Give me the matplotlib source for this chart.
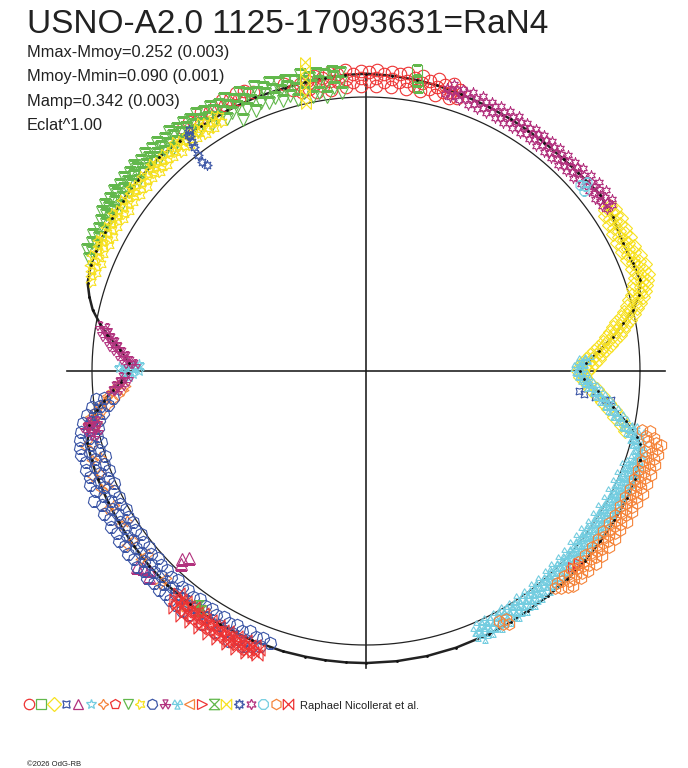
import numpy as np
import matplotlib
matplotlib.use("Agg")
import matplotlib.pyplot as plt
from matplotlib.path import Path

plt.rcParams['font.family'] = ['Liberation Sans', 'DejaVu Sans']

# ---- light-curve data : phase angle (degrees) then relative flux value(s) ----
# flux is drawn as radius (Eclat^1.00); the circle is the mean brightness
model = [(-18, 1.05), (-15, 1.035), (-13.7, 1.018), (-11, 0.965), (-8.3, 0.912), (-5, 0.85),
         (-2, 0.795), (0, 0.782), (2, 0.805), (5, 0.855), (7.8, 0.909), (10.5, 0.955),
         (12.9, 1.0), (15.5, 1.035), (18.4, 1.055), (22, 1.05), (26.5, 1.048), (32, 1.062),
         (37, 1.07), (43, 1.06), (47, 1.057), (52, 1.058), (56, 1.058), (60, 1.06), (65, 1.063),
         (71, 1.068), (76, 1.074), (80, 1.078), (85, 1.082), (90, 1.085), (94, 1.083), (98, 1.08),
         (102, 1.077), (106, 1.075), (112, 1.077), (118, 1.077), (124, 1.077), (129, 1.081),
         (134, 1.085), (140, 1.085), (145, 1.084), (149, 1.082), (152, 1.08), (156, 1.078),
         (159, 1.076), (162.4, 1.066), (165, 1.045), (167.4, 1.022), (170, 0.985), (172, 0.953),
         (175, 0.9), (178, 0.866), (180.5, 0.87), (182.5, 0.895), (184.3, 0.927), (186.5, 0.963),
         (188.3, 0.993), (191, 1.03), (194.5, 1.05), (198, 1.053), (202, 1.055), (207, 1.056),
         (211.5, 1.058), (217, 1.061), (222, 1.064), (227, 1.066), (233, 1.067), (240, 1.068),
         (247, 1.068), (253.5, 1.067), (258, 1.066), (262, 1.066), (266, 1.066), (270, 1.066),
         (276, 1.065), (282, 1.064), (288, 1.062), (295, 1.06), (300, 1.058), (304, 1.056),
         (309, 1.056), (314, 1.057), (319, 1.057), (324, 1.057), (329, 1.058), (334, 1.06),
         (338, 1.057), (342, 1.05)]

red_circles = [(71.5, 1.05, 1.08), (73, 1.04, 1.065, 1.095), (74.5, 1.055, 1.085), (76, 1.04, 1.07, 1.10),
               (77.5, 1.055, 1.085), (79, 1.04, 1.07, 1.095), (80.5, 1.055, 1.085), (82, 1.04, 1.07, 1.10),
               (83.5, 1.06, 1.09), (85, 1.04, 1.07, 1.095), (86.5, 1.055, 1.085), (88, 1.04, 1.07, 1.10),
               (89.5, 1.06, 1.09), (91, 1.04, 1.07, 1.095), (92.5, 1.055, 1.085), (94, 1.04, 1.07, 1.10),
               (95.5, 1.06, 1.09), (97, 1.035, 1.065, 1.095), (98.5, 1.05, 1.08), (100, 1.035, 1.065, 1.095),
               (101.5, 1.05, 1.08), (103, 1.045, 1.075), (104.5, 1.06), (106, 1.09), (112, 1.10),
               (113.5, 1.115), (115, 1.095, 1.12), (116.5, 1.11), (118, 1.10, 1.12), (119.5, 1.115),
               (121, 1.105), (122.5, 1.12), (124, 1.10), (125.5, 1.115), (127, 1.11)]
green_squares = [(80.4, 1.115), (80.0, 1.075), (79.6, 1.055)]
yellow_diamonds = [(34, 1.05, 1.075), (33, 1.04, 1.065, 1.085), (32, 1.05, 1.075), (31, 1.035, 1.06, 1.085),
                   (30, 1.045, 1.07), (29, 1.03, 1.055, 1.08), (28, 1.045, 1.07), (27, 1.03, 1.055, 1.08),
                   (26, 1.04, 1.065), (25, 1.03, 1.055, 1.08), (24, 1.045, 1.07), (23, 1.035, 1.06, 1.085),
                   (22, 1.05, 1.075), (21, 1.04, 1.065, 1.09), (20, 1.05, 1.08), (19, 1.04, 1.065, 1.09),
                   (18, 1.03, 1.06, 1.08), (17, 1.02, 1.05, 1.07), (16, 1.01, 1.04, 1.06),
                   (15, 0.995, 1.025, 1.045), (14, 0.98, 1.01, 1.03), (13, 0.965, 0.99, 1.015),
                   (12, 0.95, 0.975, 1.0), (11, 0.93, 0.955, 0.98), (10, 0.915, 0.94, 0.965),
                   (9, 0.9, 0.925, 0.95), (8, 0.885, 0.91, 0.935), (7, 0.87, 0.89, 0.915),
                   (6, 0.85, 0.875, 0.9), (5, 0.835, 0.86, 0.88), (4, 0.82, 0.84, 0.865),
                   (3, 0.805, 0.825, 0.85), (2, 0.79, 0.81, 0.835), (1, 0.78, 0.80, 0.82),
                   (0, 0.775, 0.79, 0.81), (-1.5, 0.78, 0.80), (-3, 0.80, 0.82), (-4.5, 0.82, 0.845),
                   (-6, 0.845, 0.87), (-7.5, 0.87, 0.895), (-9, 0.895, 0.92), (-10.5, 0.92, 0.945),
                   (-12, 0.95, 0.97), (-13, 0.97)]
blue_stars4 = [(-5.5, 0.78), (-6, 0.80), (-6.5, 0.84), (-7, 0.88), (-6.8, 0.90)]
magenta_triangles = [(220.5, 1.10), (221.5, 1.085), (222.5, 1.075), (223.5, 1.09), (225.5, 0.96),
                     (226.2, 0.975), (226.7, 0.94)]
cyan_stars = [(178.5, 0.83, 0.86), (179.2, 0.84, 0.875, 0.90), (180, 0.83, 0.86, 0.885),
              (180.8, 0.85, 0.875), (181.5, 0.865)]
orange_stars4 = [(183.5, 0.88, 0.91), (184.5, 0.89, 0.93), (185.5, 0.91, 0.95), (186.5, 0.93, 0.96),
                 (187.5, 0.95, 0.98), (188.5, 0.97, 1.0), (189.5, 0.99, 1.02), (191, 1.0, 1.03),
                 (195, 1.03, 1.06), (198, 1.02, 1.05), (201, 1.04, 1.07), (204, 1.03, 1.06),
                 (208, 1.04, 1.07), (212, 1.03, 1.06), (216, 1.05, 1.08), (220, 1.04, 1.07),
                 (226, 1.05, 1.08), (232, 1.06, 1.09), (236, 1.05)]
red_pentagons = [(190, 1.02), (191, 1.035), (191.5, 1.01)]
green_tri_down = [(95, 1.02, 1.06, 1.09), (96.5, 1.04, 1.08, 1.10), (98, 1.01, 1.06, 1.09),
                  (99.5, 1.03, 1.07, 1.10), (101, 1.02, 1.06, 1.09), (102.5, 1.04, 1.08, 1.105),
                  (104, 1.02, 1.06, 1.09), (105.5, 1.04, 1.075, 1.10), (107, 1.03, 1.07, 1.10),
                  (108.5, 1.05, 1.08, 1.11), (110, 1.04, 1.075, 1.10), (111.5, 1.05, 1.09, 1.115),
                  (113, 1.03, 1.07, 1.10), (114.5, 1.05, 1.085, 1.115), (116, 1.02, 1.07, 1.10),
                  (117.5, 1.06, 1.09, 1.12), (119, 1.05, 1.08, 1.11), (120.5, 1.07, 1.10, 1.12),
                  (122, 1.06, 1.09, 1.115), (123.5, 1.08, 1.10, 1.125), (125, 1.07, 1.095, 1.12),
                  (126.5, 1.08, 1.105, 1.125), (128, 1.07, 1.10, 1.12), (129.5, 1.085, 1.11, 1.13),
                  (131, 1.075, 1.10, 1.12), (132.5, 1.085, 1.11, 1.13), (134, 1.08, 1.10, 1.125),
                  (135.5, 1.09, 1.11, 1.13), (137, 1.08, 1.10, 1.125), (138.5, 1.09, 1.115, 1.13),
                  (140, 1.08, 1.105, 1.125), (141.5, 1.09, 1.11, 1.13), (143, 1.085, 1.105, 1.125),
                  (144.5, 1.09, 1.115, 1.13), (146, 1.08, 1.105, 1.125), (147.5, 1.09, 1.11, 1.13),
                  (149, 1.085, 1.105, 1.125), (150.5, 1.09, 1.11), (152, 1.085, 1.105), (153.5, 1.09, 1.115),
                  (155, 1.085, 1.105), (156.5, 1.09, 1.11), (158, 1.09)]
yellow_stars = [(120, 1.05, 1.075), (121, 1.06, 1.085), (122, 1.045, 1.07), (123, 1.055, 1.08),
                (124, 1.045, 1.07, 1.09), (125, 1.06, 1.08), (126, 1.05, 1.075), (127, 1.06, 1.085),
                (128, 1.045, 1.07), (129, 1.055, 1.08), (130, 1.045, 1.07, 1.09), (131, 1.06, 1.08),
                (132, 1.05, 1.075), (133, 1.06, 1.085), (134, 1.045, 1.07), (135, 1.055, 1.08),
                (136, 1.045, 1.07, 1.09), (137, 1.06, 1.08), (138, 1.05, 1.075), (139, 1.06, 1.085),
                (140, 1.045, 1.07), (141, 1.055, 1.08), (142, 1.045, 1.07, 1.09), (143, 1.06, 1.08),
                (144, 1.05, 1.075), (145, 1.06, 1.085), (146, 1.045, 1.07), (147, 1.055, 1.08),
                (148, 1.045, 1.07, 1.09), (149, 1.06, 1.08), (150, 1.05, 1.075), (151, 1.06, 1.085),
                (152, 1.045, 1.07), (153, 1.055, 1.08), (154, 1.045, 1.07, 1.09), (155, 1.06, 1.08),
                (156, 1.05, 1.075), (157, 1.06, 1.085), (158, 1.045, 1.07), (159, 1.055, 1.08),
                (160, 1.05, 1.07), (161, 1.06), (162, 1.055)]
blue_hepta = [(186, 0.93, 0.96, 0.99), (187.5, 0.95, 0.98, 1.01), (189, 0.97, 1.0, 1.03),
              (190.5, 0.99, 1.02, 1.05), (192, 1.0, 1.035, 1.065), (193.5, 1.01, 1.04, 1.075),
              (195, 1.0, 1.04, 1.08), (196.5, 1.015, 1.05, 1.085), (198, 1.0, 1.04, 1.075),
              (199.5, 1.015, 1.05, 1.085), (201, 1.005, 1.04, 1.08), (202.5, 1.02, 1.055, 1.09),
              (204, 1.005, 1.045, 1.08), (205.5, 1.02, 1.06, 1.10), (207, 1.01, 1.045, 1.08),
              (208.5, 1.02, 1.055, 1.09), (210, 1.01, 1.045, 1.08), (211.5, 1.02, 1.055, 1.09),
              (213, 1.015, 1.05, 1.085), (214.5, 1.025, 1.06, 1.095), (216, 1.015, 1.05, 1.085),
              (217.5, 1.025, 1.06, 1.095), (219, 1.02, 1.055, 1.09), (220.5, 1.03, 1.065, 1.10),
              (222, 1.02, 1.055, 1.09), (223.5, 1.03, 1.065, 1.10), (225, 1.025, 1.06, 1.095),
              (226.5, 1.035, 1.07, 1.10), (228, 1.025, 1.06, 1.095), (229.5, 1.035, 1.07, 1.10),
              (231, 1.03, 1.065, 1.10), (232.5, 1.04, 1.075, 1.105), (234, 1.03, 1.065, 1.10),
              (235.5, 1.04, 1.075), (237, 1.035, 1.07, 1.10), (238.5, 1.045, 1.08), (240, 1.035, 1.07, 1.10),
              (241.5, 1.045, 1.08), (243, 1.04, 1.075, 1.105), (244.5, 1.05, 1.085), (246, 1.04, 1.075, 1.10),
              (247.5, 1.05, 1.085), (249, 1.045, 1.075), (250.5, 1.055)]
magenta_trefoil = [(170.5, 0.96, 0.985), (171.5, 0.95, 0.975), (172.5, 0.935, 0.96), (173.5, 0.92, 0.945),
                   (174.5, 0.905, 0.93), (175.5, 0.89, 0.915), (176.5, 0.875, 0.90), (177.5, 0.86, 0.885),
                   (178.3, 0.845, 0.87), (181.5, 0.87, 0.895), (182.5, 0.88, 0.905), (183.5, 0.895, 0.92),
                   (184.5, 0.91, 0.935), (190.5, 1.0, 1.03), (191.5, 1.015, 1.045), (192.5, 1.0, 1.035),
                   (193.5, 1.02)]
cyan_trefoil = [(3, 0.79, 0.81), (2, 0.78, 0.80), (1, 0.77, 0.79), (0, 0.765, 0.785), (-1, 0.775, 0.795),
                (-2, 0.785, 0.805), (-3, 0.80, 0.82), (-4, 0.81, 0.835), (-5, 0.83, 0.85), (-6, 0.845, 0.865),
                (-7, 0.86, 0.885), (-8, 0.88, 0.90), (-9, 0.895, 0.92), (-10, 0.915, 0.94),
                (-11, 0.935, 0.96), (-12, 0.955, 0.98, 1.0), (-13, 0.975, 1.0, 1.03), (-14, 0.995, 1.02),
                (-15, 1.01, 1.035), (-16, 1.02, 1.045), (-17, 1.03, 1.055), (-18, 1.03, 1.05),
                (-19, 1.02, 1.045), (-20, 1.005, 1.03, 1.055), (-21, 1.015, 1.04), (-22, 1.0, 1.025, 1.05),
                (-23, 1.015, 1.04), (-24, 1.0, 1.025, 1.05), (-25, 1.01, 1.035), (-26, 0.995, 1.02, 1.045),
                (-27, 1.01, 1.035), (-28, 0.995, 1.02, 1.045), (-29, 1.01, 1.035), (-30, 0.99, 1.015, 1.04),
                (-31, 1.005, 1.03), (-32, 0.99, 1.015, 1.04), (-33, 1.005, 1.03), (-34, 0.99, 1.015, 1.04),
                (-35, 1.0, 1.025), (-36, 0.985, 1.01, 1.035), (-37, 1.0, 1.025), (-38, 0.985, 1.01, 1.035),
                (-39, 1.0, 1.025), (-40, 0.985, 1.01, 1.035), (-41, 1.0, 1.025), (-42, 0.985, 1.01, 1.035),
                (-43, 1.0, 1.025), (-44, 0.99, 1.015, 1.04), (-45, 1.0, 1.025), (-46, 0.99, 1.015, 1.04),
                (-47, 1.0, 1.025), (-48, 0.99, 1.015, 1.04), (-49, 1.005, 1.03), (-50, 0.995, 1.02, 1.045),
                (-51, 1.005, 1.03), (-52, 0.995, 1.02, 1.045), (-53, 1.01, 1.035), (-54, 1.0, 1.025, 1.05),
                (-55, 1.01, 1.035), (-56, 1.0, 1.025, 1.05), (-57, 1.015, 1.04), (-58, 1.005, 1.03, 1.055),
                (-59, 1.015, 1.04), (-60, 1.005, 1.03, 1.055), (-61, 1.015, 1.04), (-62, 1.01, 1.035, 1.06),
                (-63, 1.02, 1.045), (-64, 1.01, 1.035, 1.06), (-65, 1.02, 1.045), (-66, 1.015, 1.04, 1.065),
                (-67, 1.03, 1.05)]
red_tri_right = [(-42, 1.045), (-42.8, 1.055), (-43.5, 1.04)]
green_hourglass = [(234.5, 1.05), (235, 1.07), (235.5, 1.06)]
yellow_bowtie = [(101.2, 1.15), (101.5, 1.12), (101.8, 1.09), (102.1, 1.06), (102.4, 1.03), (102.7, 1.0)]
blue_star8 = [(126.3, 1.09), (126.8, 1.07), (127.2, 1.05), (127.5, 1.03), (127.9, 1.0), (128.2, 0.97),
              (127.0, 1.08), (127.7, 0.95)]
magenta_david = [(74, 1.05, 1.075), (73, 1.045, 1.07, 1.095), (72, 1.055, 1.08), (71, 1.045, 1.07, 1.09),
                 (70, 1.055, 1.08), (69, 1.04, 1.065, 1.09), (68, 1.05, 1.075), (67, 1.04, 1.065, 1.09),
                 (66, 1.05, 1.075), (65, 1.04, 1.065, 1.085), (64, 1.05, 1.075), (63, 1.035, 1.06, 1.085),
                 (62, 1.045, 1.07), (61, 1.035, 1.06, 1.085), (60, 1.045, 1.07), (59, 1.035, 1.06, 1.085),
                 (58, 1.045, 1.07), (57, 1.035, 1.06, 1.08), (56, 1.045, 1.07), (55, 1.035, 1.06, 1.08),
                 (54, 1.045, 1.07), (53, 1.03, 1.055, 1.08), (52, 1.045, 1.07), (51, 1.03, 1.055, 1.08),
                 (50, 1.04, 1.065), (49, 1.03, 1.055, 1.08), (48, 1.04, 1.065), (47, 1.03, 1.055, 1.08),
                 (46, 1.04, 1.065), (45, 1.03, 1.055, 1.08), (44, 1.045, 1.07), (43, 1.035, 1.06, 1.085),
                 (42, 1.045, 1.07), (41, 1.04, 1.065, 1.09), (40, 1.05, 1.075), (39, 1.045, 1.07, 1.095),
                 (38, 1.055, 1.08), (37, 1.045, 1.07, 1.095), (36, 1.055, 1.08), (35, 1.05, 1.075, 1.095),
                 (34, 1.06, 1.085)]
cyan_octagons = [(39.5, 1.03), (40.2, 1.045), (41, 1.035), (40.5, 1.06)]
orange_hexagons = [(-12, 1.03, 1.06), (-13, 1.05, 1.08), (-14, 1.06, 1.09, 1.11), (-15, 1.07, 1.10),
                   (-16, 1.06, 1.085, 1.11), (-17, 1.07, 1.10), (-18, 1.06, 1.085, 1.11), (-19, 1.07, 1.095),
                   (-20, 1.055, 1.08, 1.105), (-21, 1.065, 1.09), (-22, 1.055, 1.08, 1.105), (-23, 1.065, 1.09),
                   (-24, 1.055, 1.08, 1.105), (-25, 1.065, 1.09), (-26, 1.05, 1.075, 1.10), (-27, 1.065, 1.09),
                   (-28, 1.05, 1.075, 1.10), (-29, 1.06, 1.085), (-30, 1.05, 1.075, 1.10), (-31, 1.06, 1.085),
                   (-32, 1.045, 1.07, 1.095), (-33, 1.06, 1.085), (-34, 1.045, 1.07, 1.095), (-35, 1.055, 1.08),
                   (-36, 1.045, 1.07, 1.095), (-37, 1.055, 1.08), (-38, 1.045, 1.07, 1.095), (-39, 1.055, 1.08),
                   (-40, 1.045, 1.07, 1.095), (-41, 1.055, 1.08), (-42, 1.04, 1.065, 1.09), (-43, 1.055, 1.08),
                   (-44, 1.04, 1.065, 1.09), (-45, 1.05, 1.075), (-46, 1.04, 1.065, 1.09), (-47, 1.05, 1.08),
                   (-48, 1.04, 1.065), (-49, 1.05), (-60.5, 1.04, 1.06), (-61.5, 1.05), (-62, 1.035)]
red_bowtie = [(230, 1.06, 1.085), (231, 1.07, 1.095, 1.115), (232, 1.065, 1.09), (233, 1.075, 1.10, 1.12),
              (234, 1.065, 1.09), (235, 1.075, 1.10, 1.12), (236, 1.065, 1.09), (237, 1.08, 1.10, 1.12),
              (238, 1.07, 1.095), (239, 1.08, 1.10, 1.12), (240, 1.07, 1.095), (241, 1.08, 1.10, 1.12),
              (242, 1.075, 1.10), (243, 1.085, 1.105, 1.12), (244, 1.075, 1.10), (245, 1.085, 1.105, 1.12),
              (246, 1.075, 1.10), (247, 1.085, 1.105, 1.12), (248, 1.08, 1.105), (249, 1.09, 1.11)]

title = "USNO-A2.0 1125-17093631=RaN4"
stats = ["Mmax-Mmoy=0.252 (0.003)", "Mmoy-Mmin=0.090 (0.001)", "Mamp=0.342 (0.003)", "Eclat^1.00"]

RED, GREEN, YELLOW, BLUE = '#ee3333', '#62b84c', '#f7e11f', '#3c56a6'
MAGENTA, CYAN, ORANGE = '#b2327e', '#74cde0', '#f5843a'


def trefoil(rot):
    verts, codes = [], []
    for k in range(3):
        a = np.deg2rad(rot + 120 * k)
        verts += [(0, 0), (np.cos(a - 0.5), np.sin(a - 0.5)), (np.cos(a + 0.5), np.sin(a + 0.5)), (0, 0)]
        codes += [Path.MOVETO, Path.LINETO, Path.LINETO, Path.CLOSEPOLY]
    return Path(verts, codes)


hourglass = [(-1, 1), (1, 1), (-1, -1), (1, -1), (-1, 1)]
bowtie = [(-1, 1), (-1, -1), (1, 1), (1, -1), (-1, 1)]

# season order = legend order: (marker, colour, marker size, points)
seasons = [
    ('o', RED, 9, red_circles),
    ('s', GREEN, 7, green_squares),
    ('D', YELLOW, 7, yellow_diamonds),
    ((4, 1, 45), BLUE, 7, blue_stars4),
    ('^', MAGENTA, 9, magenta_triangles),
    ('*', CYAN, 8, cyan_stars),
    ((4, 1, 0), ORANGE, 8, orange_stars4),
    ('p', RED, 7, red_pentagons),
    ('v', GREEN, 8, green_tri_down),
    ((5, 1, 20), YELLOW, 8, yellow_stars),
    ((7, 0, 0), BLUE, 9, blue_hepta),
    (trefoil(90), MAGENTA, 7, magenta_trefoil),
    (trefoil(-90), CYAN, 8, cyan_trefoil),
    ('<', ORANGE, 7, []),
    ('>', RED, 7, red_tri_right),
    (hourglass, GREEN, 7, green_hourglass),
    (bowtie, YELLOW, 7, yellow_bowtie),
    ((8, 1, 0), BLUE, 7, blue_star8),
    ((6, 1, 0), MAGENTA, 6.5, magenta_david),
    ((8, 0, 22.5), CYAN, 7, cyan_octagons),
    ('h', ORANGE, 8.5, orange_hexagons),
    (bowtie, RED, 8, red_bowtie),
]

W, H = 688, 768
cx, cy, R = 366, 371, 274      # centre and unit radius in pixels
rmax = 1.2
half = rmax * R

fig = plt.figure(figsize=(W / 100, H / 100), dpi=100)
ax = fig.add_axes([(cx - half) / W, (H - cy - half) / H, 2 * half / W, 2 * half / H], projection='polar')
ax.set_ylim(0, rmax)
ax.set_axis_off()

# reference circle and cross
tc = np.linspace(0, 2 * np.pi, 721)
ax.plot(tc, np.ones_like(tc), color='#222222', lw=0.9, zorder=1)
for ang, length in [(0, 1.09), (np.pi, 1.09), (np.pi / 2, 1.085), (-np.pi / 2, 1.085)]:
    ax.plot([ang, ang], [0, length], color='#222222', lw=1.2, zorder=1)

mt = np.array(model)
mt = np.vstack([mt, mt[:1] + [360, 0]])
ax.plot(np.deg2rad(mt[:, 0]), mt[:, 1], color='#222222', lw=1.8, zorder=2)

for mk, col, ms, pts in seasons:
    ang = [p[0] for p in pts for f in p[1:]]
    flux = [f for p in pts for f in p[1:]]
    ax.plot(np.deg2rad(ang), flux, ls='none', marker=mk, ms=ms, mfc='none',
            mec=col, mew=0.8, zorder=3)

ax.plot(np.deg2rad(mt[:, 0]), mt[:, 1], ls='none', marker='.', ms=2, color='#111111', zorder=4)

# legend row of season symbols
lax = fig.add_axes([0, 0, 1, 1])
lax.set_xlim(0, W)
lax.set_ylim(H, 0)
lax.set_axis_off()
for i, (mk, col, ms, pts) in enumerate(seasons):
    lax.plot(29 + i * 12.33, 704, marker=mk, ms=7.5, mfc='none', mec=col, mew=0.9)

fig.text(27 / W, 1 - 33 / H, title, fontsize=24, color='#222222', va='baseline')
for i, s in enumerate(stats):
    fig.text(27 / W, 1 - (57 + i * 24.3) / H, s, fontsize=11.8, color='#222222', va='baseline')
fig.text(300 / W, 1 - 709 / H, "Raphael Nicollerat et al.", fontsize=8, color='#222222', va='baseline')
fig.text(27 / W, 1 - 766 / H, "\u00a92026 OdG-RB", fontsize=5.5, color='#222222', va='baseline')

fig.savefig('out.png', dpi=100)
